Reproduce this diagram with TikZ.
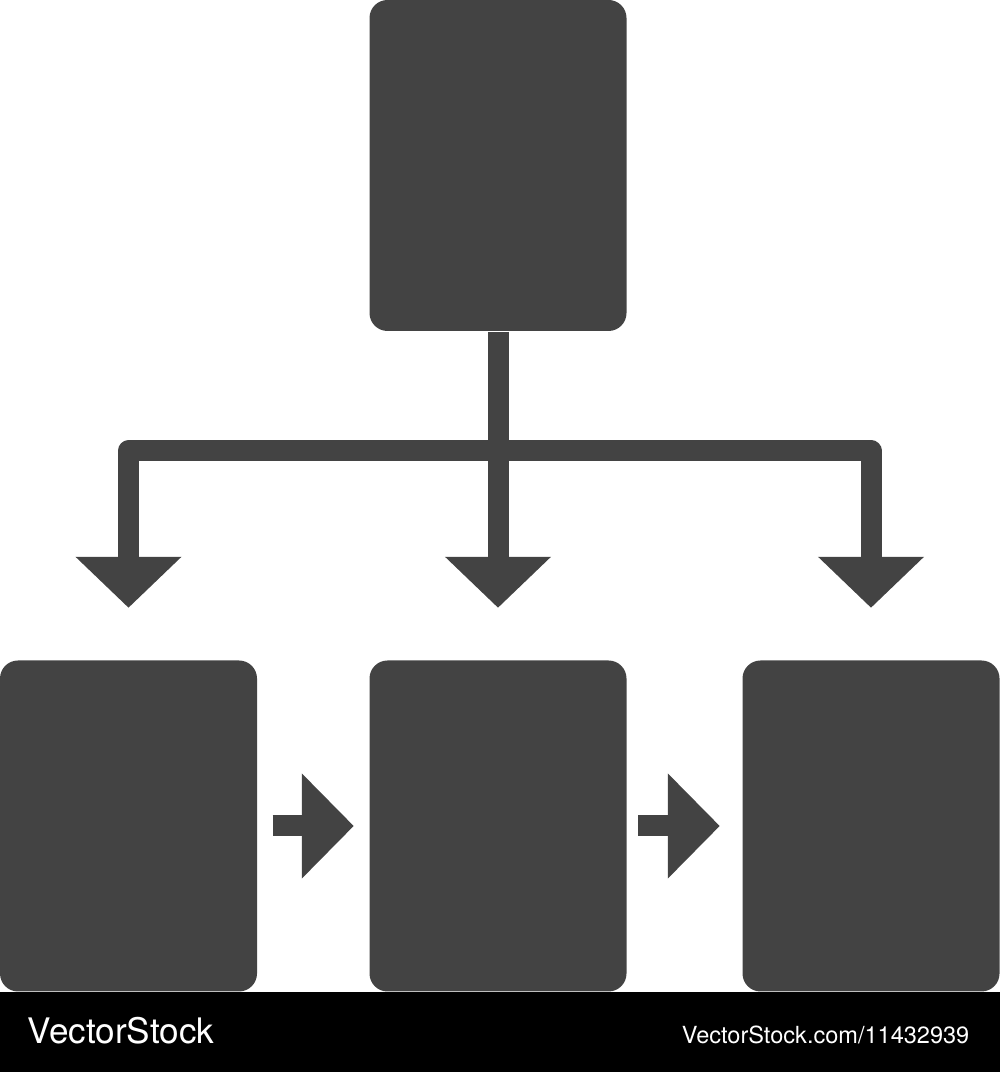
\documentclass[tikz,border=0pt]{standalone}
\usepackage{fontspec}
\usetikzlibrary{arrows.meta}
\newfontfamily\markfont{TeX Gyre Heros}
\definecolor{iconGray}{RGB}{67,67,67}

\begin{document}
\begin{tikzpicture}[
    box/.style={fill=iconGray, rounded corners=1.8mm, minimum width=2.57cm, minimum height=3.31cm, inner sep=0pt},
    bar/.style={draw=iconGray, line width=2.1mm, line join=round},
    downflow/.style={bar, -{Triangle[length=5.1mm, width=10.3mm]}, shorten >=5.2mm},
    sideflow/.style={bar, -{Triangle[length=5.2mm, width=10.2mm]}},
    footertext/.style={text=white, inner sep=0pt}
]
                  % Frame
                  \useasboundingbox (0,0) rectangle (10,10.72);

                  % Define boxes
                  \node[box] (top) at (4.98,9.065) {};
                  \node[box] (left) at (1.285,2.46) {};
                  \node[box] (mid) at (4.98,2.46) {};
                  \node[box] (right) at (8.71,2.46) {};
                  \coordinate (split) at (4.98,6.21);

                  % Draw branches
                  \draw[bar] (top.south) -- (split);
                  \draw[downflow] (split) -| (left.north);
                  \draw[downflow] (split) -- (mid.north);
                  \draw[downflow] (split) -| (right.north);

                  % Draw side arrows
                  \draw[sideflow, shorten <=1.5mm, shorten >=1.5mm] (left) -- (mid);
                  \draw[sideflow, shorten <=1.1mm, shorten >=2.2mm] (mid) -- (right);

                  % Footer
                  \fill[black] (0,0) rectangle (10,0.80);
                  \node[footertext, anchor=base west, font=\markfont\fontsize{10}{12}\selectfont] (brand) at (0.27,0.29) {VectorStock};
                  \node[footertext, anchor=base east, font=\markfont\fontsize{6.7}{8}\selectfont] (stockid) at (9.70,0.29) {VectorStock.com/11432939};

              \end{tikzpicture}
\end{document}
